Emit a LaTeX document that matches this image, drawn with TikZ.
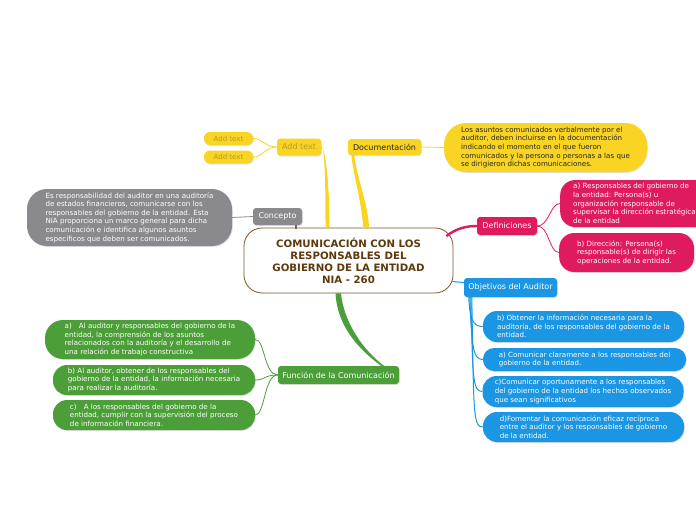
\documentclass[tikz,border=0pt]{standalone}
\usepackage{fontspec}
\setmainfont{DejaVu Sans}
\usetikzlibrary{calc,shadows}
\definecolor{yel}{HTML}{F9D423}
\definecolor{yeltxt}{HTML}{B49A2E}
\definecolor{gry}{HTML}{8A8A8E}
\definecolor{pnk}{HTML}{E01A5F}
\definecolor{blu}{HTML}{1A96E4}
\definecolor{grn}{HTML}{4C9F38}
\definecolor{brd}{HTML}{7B5530}
\definecolor{brtxt}{HTML}{5C3A0E}
\tikzset{
  shd/.style={drop shadow={shadow xshift=0.8pt,shadow yshift=-0.9pt,opacity=0.25}},
  lbl/.style={shd,rounded corners=3pt,inner sep=0pt,font=\fontsize{8}{10}\selectfont},
  bub/.style={shd,inner ysep=0pt,align=left,font=\fontsize{7.1}{8.6}\selectfont,text=white},
  thin/.style={line width=0.8pt},
}
\begin{document}
\begin{tikzpicture}[x=1pt,y=-1pt]
\useasboundingbox (0,0) rectangle (696,520);

% central
\node[draw=brd,line width=0.8pt,fill=white,rounded corners=18pt,minimum width=209pt,minimum height=65pt,inner sep=0pt,align=center,text=brtxt,font=\bfseries\fontsize{10.2}{12}\selectfont] (central) at (348.5,260.5)
 {COMUNICACIÓN CON LOS\\RESPONSABLES DEL\\GOBIERNO DE LA ENTIDAD\\NIA - 260};

% yellow branches
\node[lbl,fill=yel,text=yeltxt,minimum width=44pt,minimum height=17pt] (addtext) at (299,147) {Add text};
\node[lbl,fill=yel,text=yeltxt,rounded corners=6pt,minimum width=49pt,minimum height=13pt,font=\fontsize{7}{8}\selectfont] (add1) at (228.5,138.5) {Add text};
\node[lbl,fill=yel,text=yeltxt,rounded corners=6pt,minimum width=49pt,minimum height=13pt,font=\fontsize{7}{8}\selectfont] (add2) at (228.5,157) {Add text};
\node[lbl,fill=yel,text=black!85,minimum width=73pt,minimum height=16pt] (doc) at (384.5,147) {Documentación};
\node[bub,fill=yel,text=black!85,rounded corners=22pt,minimum width=203pt,minimum height=49pt] (docb) at (545.5,147.5)
 {Los asuntos comunicados verbalmente por el\\auditor, deben incluirse en la documentación\\indicando el momento en el que fueron\\comunicados y la persona o personas a las que\\se dirigieron dichas comunicaciones.};

% gray branch
\node[lbl,fill=gry,text=white,minimum width=49pt,minimum height=17pt] (concepto) at (277.5,216.5) {Concepto};
\node[bub,fill=gry,rounded corners=20pt,minimum width=205pt,minimum height=57pt] (conb) at (129.5,217.5)
 {Es responsabilidad del auditor en una auditoría\\de estados financieros, comunicarse con los\\responsables del gobierno de la entidad. Esta\\NIA proporciona un marco general para dicha\\comunicación e identifica algunos asuntos\\específicos que deben ser comunicados.};

% pink branch
\node[lbl,fill=pnk,text=white,minimum width=60pt,minimum height=18pt] (def) at (507,226) {Definiciones};
\node[bub,fill=pnk,rounded corners=15pt,minimum height=47pt,inner xsep=13pt,anchor=west] (defa) at (560,203.5)
 {a) Responsables del gobierno de\\la entidad: Persona(s) u\\organización responsable de\\supervisar la dirección estratégica\\de la entidad};
\node[bub,fill=pnk,rounded corners=15pt,minimum height=39pt,inner xsep=18pt,anchor=west] (defb) at (559,252.5)
 {b) Dirección: Persona(s)\\responsable(s) de dirigir las\\operaciones de la entidad.};

% blue branch
\node[lbl,fill=blu,text=white,minimum width=93pt,minimum height=19pt] (obj) at (510.5,287.5) {Objetivos del Auditor};
\node[bub,fill=blu,rounded corners=14pt,minimum width=201pt,minimum height=31pt] (objb) at (583.5,326.5)
 {b) Obtener la información necesaria para la\\auditoría, de los responsables del gobierno de la\\entidad.};
\node[bub,fill=blu,rounded corners=11pt,minimum width=203pt,minimum height=23pt] (obja) at (584.5,359.5)
 {a) Comunicar claramente a los responsables del\\gobierno de la entidad.};
\node[bub,fill=blu,rounded corners=14pt,minimum width=201pt,minimum height=31pt] (objc) at (583,391.5)
 {c)Comunicar oportunamente a los responsables\\del gobierno de la entidad los hechos observados\\que sean significativos};
\node[bub,fill=blu,rounded corners=14pt,minimum width=201pt,minimum height=30pt] (objd) at (583.5,427)
 {d)Fomentar la comunicación eficaz recíproca\\entre el auditor y los responsables de gobierno\\de la entidad.};

% green branch
\node[lbl,fill=grn,text=white,minimum width=121pt,minimum height=18pt] (fun) at (338.5,375) {Función de la Comunicación};
\node[bub,fill=grn,rounded corners=18pt,minimum width=210pt,minimum height=39pt] (funa) at (150,339.5)
 {a)\quad Al auditor y responsables del gobierno de la\\entidad, la comprensión de los asuntos\\relacionados con la auditoría y el desarrollo de\\una relación de trabajo constructiva};
\node[bub,fill=grn,rounded corners=14pt,minimum width=202pt,minimum height=30pt] (funb) at (154,380)
 {b) Al auditor, obtener de los responsables del\\gobierno de la entidad, la información necesaria\\para realizar la auditoría.};
\node[bub,fill=grn,rounded corners=14pt,minimum width=202pt,minimum height=30pt] (func) at (154,415)
 {c)\quad A los responsables del gobierno de la\\entidad, cumplir con la supervisión del proceso\\de información financiera.};

% ---- connectors ----
% add text -> central (tapered)
\fill[yel] ($(addtext.east)+(0,-0.8)$) .. controls +(4,0.8) and +(0,-38) .. ($(central.north)+(-23,0)$)
  -- ($(central.north)+(-19,0)$) .. controls +(0,-38) and +(5,0.2) .. ($(addtext.east)+(0,0.8)$) -- cycle;
% documentacion -> central (tapered)
\fill[yel] ($(doc.south west)+(3.5,0)$) .. controls +(3,25) and +(-1,-25) .. ($(central.north)+(14.5,0)$)
  -- ($(central.north)+(20.5,0)$) .. controls +(-1,-25) and +(3,25) .. ($(doc.south west)+(6.5,0)$) -- cycle;
% central -> funcion (tapered)
\fill[grn] ($(central.south)+(-13,0)$) .. controls +(2,35) and +(-20,-15) .. ($(fun.north)+(42.5,0)$)
  -- ($(fun.north)+(45.5,0)$) .. controls +(-20,-15) and +(3,30) .. ($(central.south)+(-7.5,0)$) -- cycle;
\draw[yel,thin] (addtext.west) .. controls +(-12,0) and +(10,0) .. (add1.east);
\draw[yel,thin] (addtext.west) .. controls +(-12,0) and +(10,0) .. (add2.east);
\draw[yel,thin] (doc.east) -- (docb.west);
\draw[gry,thin] (concepto.west) -- (conb.east);
\draw[black!60,line width=1.5pt] ($(concepto.south east)+(-6,0)$) -- ++(0,3.5);
\draw[pnk,line width=2.4pt] ($(central.north east)+(-7,8.5)$) .. controls +(10,-8) and +(-10,0) .. (def.west);
\draw[pnk,thin] (def.east) .. controls +(12,0) and +(-10,0) .. (defa.west);
\draw[pnk,thin] (def.east) .. controls +(12,0) and +(-10,0) .. (defb.west);
\draw[blu,line width=1pt] ($(central.east)+(-1,21)$) .. controls +(5,0) and +(-5,0) .. ($(obj.west)+(0,-5)$);
\draw[blu,line width=1pt] ($(obj.south west)+(5,0)$) .. controls +(1,22) and +(-10,0) .. (objb.west);
\draw[blu,line width=1pt] ($(obj.south west)+(6,0)$) .. controls +(2,50) and +(-10,0) .. (obja.west);
\draw[blu,line width=1pt] ($(obj.south west)+(7,0)$) .. controls +(2,80) and +(-10,0) .. (objc.west);
\draw[blu,line width=1pt] ($(obj.south west)+(8,0)$) .. controls +(2,115) and +(-10,0) .. (objd.west);
\draw[grn,thin] (fun.west) .. controls +(-14,0) and +(10,0) .. (funa.east);
\draw[grn,thin] (fun.west) .. controls +(-14,0) and +(10,0) .. (funb.east);
\draw[grn,thin] (fun.west) .. controls +(-14,0) and +(10,0) .. (func.east);
\end{tikzpicture}
\end{document}
